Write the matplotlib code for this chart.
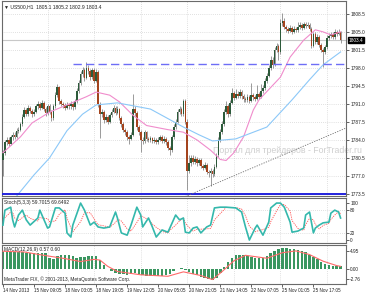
import numpy as np
import matplotlib.pyplot as plt
import matplotlib.transforms as mtransforms

plt.rcParams['font.family'] = ['Liberation Sans', 'DejaVu Sans']

# hourly US500 candles (open of bar 0, then closes/highs/lows per bar)
first_open = 1780.0
closes = [
    1781.5, 1783.5, 1784.0, 1783.3, 1784.5, 1785.0, 1784.6, 1785.8, 1786.0, 1787.0,
    1788.5, 1789.8, 1789.0, 1790.2, 1789.6, 1789.0, 1789.5, 1790.5, 1791.0, 1790.3,
    1791.2, 1790.0, 1789.2, 1790.6, 1789.5, 1788.2, 1790.5, 1792.8, 1794.2, 1791.5,
    1791.0, 1790.7, 1790.3, 1790.8, 1790.5, 1791.0, 1790.4, 1791.5, 1793.5, 1795.0,
    1796.8, 1797.5, 1796.0, 1798.0, 1797.3, 1796.2, 1797.5, 1795.5, 1797.2, 1791.0,
    1789.0, 1789.5, 1787.8, 1788.5, 1787.5, 1788.8, 1789.5, 1790.2, 1789.3, 1790.0,
    1788.3, 1787.0, 1786.0, 1785.5, 1784.5, 1784.2, 1785.0, 1790.0, 1789.2, 1786.5,
    1785.5, 1784.0, 1783.8, 1785.5, 1784.2, 1784.0, 1784.3, 1783.8, 1784.0, 1783.6,
    1784.0, 1784.5, 1783.8, 1784.2, 1783.5, 1782.5, 1782.0, 1784.5, 1786.5, 1787.5,
    1789.5, 1790.0, 1789.0, 1791.5, 1787.5, 1778.0, 1779.5, 1780.5, 1779.8, 1780.2,
    1779.5, 1780.0, 1779.0, 1778.6, 1779.2, 1777.8, 1777.5, 1778.0, 1777.3, 1778.8,
    1781.0, 1784.0, 1785.5, 1787.0, 1789.5, 1790.5, 1789.0, 1791.2, 1793.2, 1792.2,
    1793.0, 1792.6, 1793.3, 1792.5, 1792.0, 1791.8, 1792.4, 1791.6, 1792.8, 1792.3,
    1792.0, 1793.0, 1792.4, 1793.5, 1794.0, 1795.5, 1796.5, 1798.0, 1799.5, 1798.6,
    1801.5, 1802.3, 1801.0, 1806.8, 1807.2, 1806.0, 1805.5, 1805.2, 1805.8, 1805.0,
    1805.5, 1805.3, 1806.0, 1806.4, 1805.8, 1806.5, 1806.2, 1806.4, 1805.6, 1802.3,
    1804.5, 1803.0, 1804.0, 1802.5, 1801.5, 1801.0, 1802.0, 1803.8, 1804.2, 1804.5,
    1804.0, 1805.0, 1804.6, 1805.0, 1803.4,
]
highs = [
    1782.0, 1784.0, 1784.6, 1784.5, 1785.0, 1785.6, 1785.5, 1786.3, 1786.6, 1787.5,
    1789.0, 1790.4, 1790.3, 1790.8, 1790.6, 1790.0, 1790.1, 1791.0, 1791.6, 1791.4,
    1791.7, 1791.5, 1790.4, 1791.0, 1790.9, 1789.8, 1790.9, 1793.3, 1794.8, 1794.5,
    1792.0, 1791.4, 1791.1, 1791.3, 1791.2, 1791.5, 1791.3, 1792.0, 1794.0, 1795.6,
    1797.4, 1798.2, 1797.9, 1799.2, 1798.5, 1797.8, 1798.0, 1797.9, 1797.7, 1797.5,
    1791.4, 1790.0, 1789.9, 1789.0, 1788.9, 1789.3, 1790.1, 1790.8, 1790.6, 1790.6,
    1790.3, 1788.6, 1787.4, 1786.4, 1785.9, 1784.9, 1785.5, 1793.0, 1790.5, 1789.6,
    1786.9, 1785.9, 1784.5, 1786.0, 1785.8, 1784.6, 1784.8, 1784.6, 1784.5, 1784.4,
    1784.5, 1785.0, 1784.9, 1784.7, 1784.6, 1783.9, 1782.9, 1785.0, 1787.0, 1788.0,
    1790.0, 1790.6, 1790.4, 1792.0, 1791.9, 1788.0, 1781.0, 1781.1, 1781.0, 1780.8,
    1780.6, 1780.5, 1780.4, 1779.4, 1779.7, 1779.5, 1778.2, 1778.5, 1778.4, 1779.3,
    1781.5, 1784.5, 1786.1, 1787.6, 1790.1, 1791.6, 1790.9, 1791.8, 1794.0, 1793.6,
    1793.8, 1793.5, 1793.9, 1793.7, 1792.9, 1792.4, 1793.0, 1792.8, 1795.0, 1793.2,
    1792.7, 1794.6, 1793.4, 1794.8, 1794.6, 1796.0, 1797.0, 1798.6, 1800.3, 1800.1,
    1802.0, 1802.9, 1802.7, 1807.5, 1808.7, 1807.6, 1806.4, 1805.9, 1806.3, 1806.2,
    1806.1, 1806.0, 1806.9, 1807.0, 1806.8, 1807.0, 1806.9, 1806.9, 1806.8, 1806.0,
    1805.0, 1804.9, 1804.6, 1804.4, 1802.9, 1801.9, 1802.5, 1804.3, 1804.8, 1805.0,
    1804.9, 1805.5, 1805.3, 1805.5, 1805.2,
]
lows = [
    1777.0, 1781.0, 1783.0, 1782.8, 1783.0, 1784.0, 1784.2, 1784.3, 1785.3, 1785.7,
    1786.8, 1788.2, 1788.6, 1788.7, 1789.2, 1788.5, 1788.6, 1789.2, 1790.1, 1789.9,
    1790.0, 1789.6, 1788.6, 1788.9, 1789.0, 1787.6, 1787.9, 1790.2, 1792.4, 1791.0,
    1790.5, 1790.2, 1789.9, 1790.0, 1790.0, 1790.1, 1789.9, 1790.1, 1791.2, 1793.2,
    1794.7, 1796.3, 1795.5, 1795.8, 1796.8, 1795.7, 1795.9, 1795.0, 1795.2, 1790.4,
    1784.4, 1788.5, 1787.3, 1787.4, 1787.0, 1787.2, 1788.5, 1789.2, 1788.9, 1789.0,
    1787.9, 1786.5, 1785.5, 1785.0, 1784.0, 1783.2, 1783.9, 1784.7, 1788.7, 1786.0,
    1785.0, 1781.6, 1783.3, 1783.4, 1783.8, 1783.6, 1783.6, 1783.4, 1783.4, 1783.2,
    1783.2, 1783.7, 1783.4, 1783.4, 1783.0, 1782.0, 1781.0, 1781.7, 1784.2, 1786.1,
    1787.2, 1789.0, 1788.6, 1788.7, 1787.0, 1774.3, 1777.5, 1779.0, 1779.3, 1779.4,
    1779.0, 1779.1, 1778.6, 1778.1, 1778.3, 1777.3, 1776.8, 1775.0, 1776.8, 1777.0,
    1778.5, 1780.7, 1783.6, 1785.1, 1786.7, 1789.0, 1788.5, 1788.7, 1790.9, 1791.8,
    1791.9, 1792.1, 1792.2, 1792.0, 1791.4, 1791.3, 1791.4, 1791.2, 1791.3, 1791.8,
    1791.5, 1791.7, 1791.9, 1792.1, 1793.1, 1793.7, 1795.1, 1796.2, 1797.6, 1798.0,
    1798.3, 1801.1, 1799.5, 1800.7, 1806.2, 1805.5, 1805.0, 1804.8, 1804.9, 1804.6,
    1804.7, 1804.9, 1805.0, 1805.6, 1805.4, 1805.5, 1805.8, 1805.9, 1805.2, 1801.8,
    1802.0, 1802.6, 1802.7, 1802.0, 1801.0, 1798.2, 1800.7, 1801.7, 1803.4, 1803.8,
    1803.6, 1803.7, 1804.2, 1804.3, 1802.9,
]

# moving averages (bar index, value)
ma_fast_idx = [0, 9, 15, 24, 33, 43, 48, 55, 60, 67, 74, 85, 93, 100, 107, 112, 115,
               119, 124, 129, 132, 143, 148, 155, 161, 165, 169, 174]
ma_fast = [1781.5, 1784.6, 1787.3, 1789.4, 1790.8, 1792.4, 1793.3, 1792.7, 1791.4,
           1788.8, 1786.8, 1786.0, 1785.5, 1784.0, 1782.0, 1780.2, 1780.0, 1781.5,
           1784.6, 1789.8, 1791.8, 1796.2, 1800.1, 1803.4, 1805.4, 1805.0, 1804.4, 1805.0]
ma_slow_idx = [4, 6, 16, 24, 33, 41, 48, 59, 76, 93, 101, 108, 120, 136, 149, 158, 165, 174]
ma_slow = [1771.8, 1772.6, 1777.2, 1780.5, 1785.8, 1789.0, 1790.8, 1791.2, 1790.0,
           1786.5, 1785.0, 1783.8, 1784.2, 1786.5, 1791.8, 1795.7, 1798.6, 1801.1]

resistance = 1798.8
support = 1773.5
last_price = 1803.4
trend_idx = [94, 178]
trend_val = [1773.0, 1786.5]

# stochastic (5,3,3)
stoch_idx = [0, 1, 4, 5, 6, 8, 10, 12, 14, 18, 19, 23, 24, 27, 29, 32, 33, 35, 36, 40,
             42, 45, 47, 49, 52, 55, 58, 59, 61, 64, 66, 69, 71, 72, 75, 77, 79, 82, 85,
             86, 89, 91, 93, 94, 96, 98, 100, 102, 105, 107, 109, 112, 115, 120, 123,
             125, 127, 130, 131, 134, 137, 138, 141, 143, 145, 148, 149, 152, 155, 156,
             158, 160, 161, 163, 165, 168, 169, 171, 173, 174]
stoch_main = [40, 80, 88, 54, 35, 67, 80, 54, 40, 59, 80, 32, 35, 86, 86, 72, 19, 8, 40,
              99, 80, 40, 48, 35, 32, 35, 75, 59, 19, 13, 40, 88, 67, 35, 59, 35, 8, 27,
              21, 32, 67, 54, 59, 21, 19, 32, 35, 19, 35, 40, 86, 88, 88, 86, 75, 35, 0,
              32, 40, 13, 48, 86, 99, 99, 88, 48, 21, 24, 32, 67, 75, 19, 32, 40, 46, 48,
              72, 80, 75, 59]
stoch_sig = [55, 60, 75, 74, 59, 52, 60, 67, 58, 51, 60, 57, 49, 51, 69, 81, 59, 33, 22,
             49, 73, 73, 56, 41, 38, 34, 47, 56, 51, 30, 24, 47, 65, 63, 54, 43, 34, 23,
             19, 26, 40, 51, 60, 45, 33, 24, 29, 29, 30, 31, 54, 71, 87, 87, 83, 65, 37,
             22, 24, 28, 34, 49, 78, 95, 95, 78, 52, 31, 26, 41, 58, 54, 42, 30, 39, 45,
             55, 67, 76, 70]

# MACD (12,26,9): histogram every second bar, signal line
macd_hist = [4.6, 4.7, 4.7, 4.6, 4.7, 4.6, 4.5, 4.5,
             4.4, 4.4, 4.3, 4.3, 3.2, 2.8, 3.5,
             3.9, 3.9, 3.8, 3.6, 3.1,
             3.3, 3.4, 3.5, 3.6, 3.7,
             2.6, 1.2, 0.2,
             -0.6, -0.9, -1.2, -1.4, -1.5, -1.3, -1.0,
             -1.4, -1.6, -1.7, -1.8, -1.8, -1.7, -1.7, -1.6, -1.3,
             -0.4, 0.2, 0.4,
             -0.3, -0.8, -1.2, -1.6, -2.0, -2.4,
             -2.7, -2.8, -2.4, -1.0,
             0.6, 2.0, 3.2, 3.8,
             3.9, 3.8, 3.6, 3.4, 3.2, 3.0,
             3.1, 3.6, 4.3, 5.0, 5.5,
             5.7, 5.7, 5.6, 5.5, 5.3, 5.0,
             4.6, 4.0, 3.4, 2.7, 2.1,
             1.5, 1.2, 1.0, 0.9, 0.9]
macd_sig_idx = [0, 11, 21, 32, 40, 47, 50, 54, 59, 71, 85, 93, 102, 108, 113, 119, 125,
                136, 144, 151, 158, 165, 172, 174]
macd_sig = [4.9, 4.7, 3.8, 2.9, 2.1, 2.7, 2.5, 0.8, -0.6, -1.5, -1.9, -0.7, -1.7, -2.8,
            -0.6, 2.3, 3.8, 3.0, 4.5, 5.0, 4.0, 2.2, 1.0, 0.8]

time_labels = ['14 Nov 2013', '15 Nov 09:05', '18 Nov 03:05', '18 Nov 19:05',
               '19 Nov 12:05', '20 Nov 05:05', '20 Nov 21:05', '21 Nov 14:05',
               '22 Nov 07:05', '25 Nov 01:05', '25 Nov 17:05']
day_lines = [23, 47, 71, 95, 119, 143, 167]

W, H = 366, 293
fig = plt.figure(figsize=(W / 100, H / 100), dpi=100)
fig.patch.set_facecolor('white')

def box(top, bottom):
    return [2 / W, 1 - bottom / H, 344 / W, (bottom - top) / H]

ax = fig.add_axes(box(1, 196))
ax_st = fig.add_axes(box(198, 243), sharex=ax)
ax_m = fig.add_axes(box(245, 284), sharex=ax)

grid_kw = dict(color='#c4c4c4', lw=0.5, ls=(0, (1, 2)), zorder=0)
for a in (ax, ax_st, ax_m):
    for s in a.spines.values():
        s.set_color('#6a6a6a')
        s.set_linewidth(0.8)
    a.yaxis.tick_right()
    a.tick_params(axis='y', labelsize=3.4, length=2, width=0.5, pad=1, colors='#222222')
    a.tick_params(axis='x', length=0)
    for d in day_lines:
        a.axvline(d, **grid_kw)
    plt.setp(a.get_xticklabels(), visible=False)

# candles
n = len(closes)
idx = np.arange(n)
opens = [first_open] + closes[:-1]
ax.vlines(idx, lows, highs, color='#8a8a8a', lw=0.6, zorder=3)
up = [c >= o for o, c in zip(opens, closes)]
body_b = [min(o, c) for o, c in zip(opens, closes)]
body_h = [max(abs(c - o), 0.15) for o, c in zip(opens, closes)]
ax.bar(idx, body_h, bottom=body_b, width=0.85,
       color=['#2c5a3a' if u else '#a4441e' for u in up],
       edgecolor='none', zorder=4)

ax.plot(ma_fast_idx, ma_fast, color='#f08ccc', lw=0.8, zorder=5)
ax.plot(ma_slow_idx, ma_slow, color='#8cc8f8', lw=0.8, zorder=5)
ax.axhline(last_price, color='#c8c8c8', lw=0.8, zorder=1)
ax.plot([36, 177], [resistance, resistance], color='#6e6ef6', lw=1.0,
        ls=(0, (6, 3)), zorder=6)
ax.axhline(support, color='#2222dd', lw=1.4, zorder=6)
ax.plot(trend_idx, trend_val, color='#707070', lw=0.6, ls=(0, (1.5, 1.5)), zorder=6)

price_ticks = [1808.5, 1805.0, 1801.5, 1798.0, 1794.5, 1791.0, 1787.5, 1784.0,
               1780.5, 1777.0, 1773.5]
ax.set_yticks(price_ticks)
ax.set_yticklabels([f'{v:.1f}' for v in price_ticks])
for v in price_ticks:
    ax.axhline(v, **grid_kw)
ax.set_ylim(1773.1, 1811.0)
ax.set_xlim(-0.5, 176.8)

tr = mtransforms.blended_transform_factory(ax.transAxes, ax.transData)
ax.text(1.008, last_price, f'{last_price:.1f}', transform=tr, fontsize=3.4,
        color='white', va='center', ha='left',
        bbox=dict(boxstyle='square,pad=0.15', fc='black', ec='black'))
ax.text(0.006, 0.985, '\u25bc US500,H1  1805.1 1805.2 1802.9 1803.4',
        transform=ax.transAxes, fontsize=3.6, va='top', ha='left', color='#222222')
ax.text(108, 1782.0, 'Портал для трейдеров - ForTrader.ru', fontsize=6.3,
        color='#cfcfcf', va='center', ha='left', zorder=2, clip_on=False)

# stochastic
ax_st.plot(stoch_idx, stoch_sig, color='#ff5050', lw=0.6, ls=(0, (1.5, 1.2)), zorder=3)
ax_st.plot(stoch_idx, stoch_main, color='#34b8ac', lw=1.2, zorder=4)
ax_st.axhline(20, **grid_kw)
ax_st.axhline(80, **grid_kw)
ax_st.set_yticks([100, 80, 20, 0])
ax_st.set_ylim(-8, 112.6)
ax_st.text(0.006, 0.95, 'Stoch(5,3,3) 59.7015 69.6492', transform=ax_st.transAxes,
           fontsize=3.5, va='top', ha='left', color='#222222')

# MACD
ax_m.bar(np.arange(0, n, 2), macd_hist, width=1.3, color='#3a9660',
         edgecolor='none', zorder=2)
ax_m.plot(macd_sig_idx, macd_sig, color='#ff6a6a', lw=0.8, zorder=3)
ax_m.set_yticks([4.95, 0.0, -2.76])
ax_m.set_yticklabels(['4.95', '0.00', '-2.76'])
ax_m.set_ylim(-4.0, 6.6)
ax_m.text(0.006, 0.95, 'MACD(12,26,9) 0.57 0.60', transform=ax_m.transAxes,
          fontsize=3.5, va='top', ha='left', color='#222222')
ax_m.text(0.006, 0.06, 'MetaTrader FIX, \u00a9 2001-2013, MetaQuotes Software Corp.',
          transform=ax_m.transAxes, fontsize=3.4, va='bottom', ha='left',
          color='#222222')

label_pos = list(range(0, 16 * len(time_labels), 16))
ax_m.set_xticks(label_pos)
ax_m.set_xticklabels(time_labels)
ax_m.tick_params(axis='x', labelsize=3.3, length=2, width=0.5, pad=1,
                 colors='#222222', labelbottom=True)
plt.setp(ax_m.get_xticklabels(), visible=True, ha='left')
ax_m.set_xlim(-0.5, 176.8)

fig.savefig('out.png', dpi=100)
